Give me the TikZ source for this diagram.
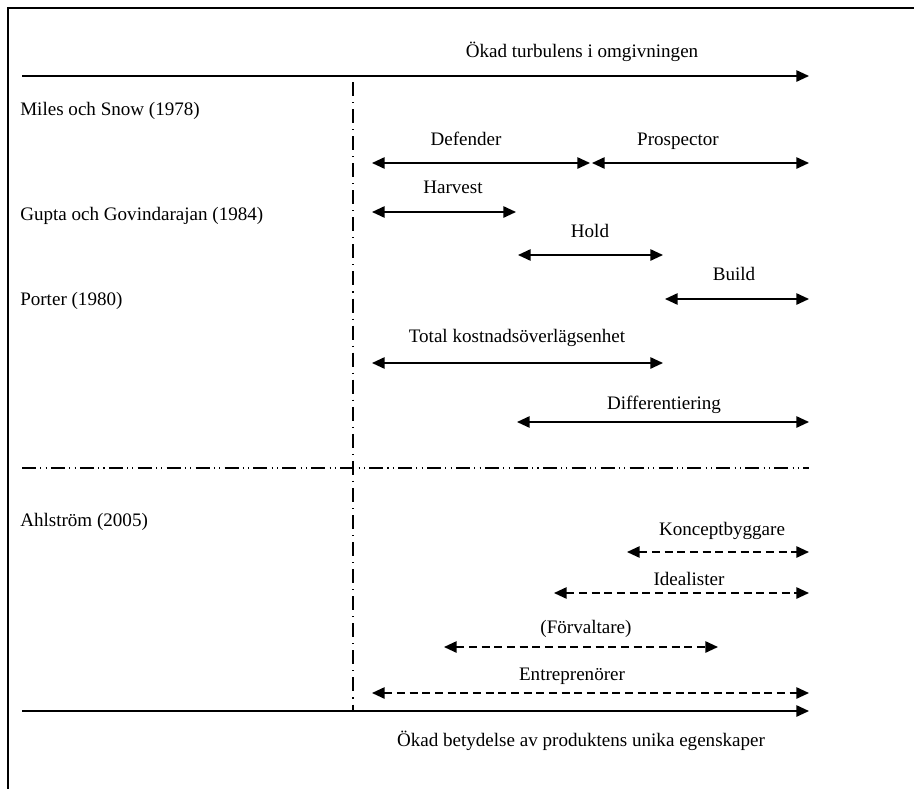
\documentclass[tikz,border=0pt]{standalone}
\usepackage{fontspec}
\setmainfont{Liberation Serif}
\usetikzlibrary{arrows.meta}
\begin{document}
\begin{tikzpicture}[x=0.75pt,y=-0.75pt,
  axis/.style={line width=1.3pt,-{Triangle[length=9.5pt,width=8.5pt]}},
  span/.style={line width=1.3pt,{Triangle[length=9.5pt,width=8.5pt]}-{Triangle[length=9.5pt,width=8.5pt]}},
  dspan/.style={span,dash pattern=on 6pt off 3.5pt},
  lbl/.style={font=\fontsize{14.3}{16}\selectfont,inner sep=0pt,anchor=base},
  src/.style={lbl,anchor=base west},
  vsep/.style={line width=1pt,dash pattern=on 10.5pt off 4.5pt on 0.8pt off 4.5pt},
  hsep/.style={line width=1pt,dash pattern=on 10.5pt off 3.2pt on 0.8pt off 3.2pt on 0.8pt off 3.2pt}]
\clip (0,0) rectangle (914,789);
% outer frame (runs past the page edge on the right and bottom)
\draw[line width=1.4pt] (8,800) -- (8,8) -- (930,8);

% axes
\coordinate (tA) at (22,76);  \coordinate (tB) at (809,76);
\coordinate (bA) at (22,711); \coordinate (bB) at (809,711);
\draw[axis] (tA) -- (tB);
\draw[axis] (bA) -- (bB);
\node[lbl] (ttl) at (582,57) {Ökad turbulens i omgivningen};
\node[lbl] (btl) at (581,746) {Ökad betydelse av produktens unika egenskaper};

% separators
\coordinate (vA) at (353,82);  \coordinate (vB) at (353,712);
\coordinate (hA) at (22,468);  \coordinate (hB) at (809,468);
\draw[vsep] (vA) -- (vB);
\draw[hsep] (hA) -- (hB);

% source labels
\node[src] (ms) at (20,115) {Miles och Snow (1978)};
\node[src] (gg) at (20,220) {Gupta och Govindarajan (1984)};
\node[src] (po) at (20,305) {Porter (1980)};
\node[src] (ah) at (20,526) {Ahlström (2005)};

% Miles och Snow
\coordinate (d1) at (372,163); \coordinate (d2) at (590,163);
\coordinate (p1) at (592,163); \coordinate (p2) at (809,163);
\draw[span] (d1) -- (d2);
\draw[span] (p1) -- (p2);
\node[lbl] (def) at (466,145) {Defender};
\node[lbl] (pro) at (678,145) {Prospector};

% Gupta och Govindarajan
\coordinate (h1) at (372,212); \coordinate (h2) at (516,212);
\coordinate (o1) at (518,255); \coordinate (o2) at (663,255);
\coordinate (u1) at (665,299); \coordinate (u2) at (809,299);
\draw[span] (h1) -- (h2);
\draw[span] (o1) -- (o2);
\draw[span] (u1) -- (u2);
\node[lbl] (har) at (453,193) {Harvest};
\node[lbl] (hol) at (590,237) {Hold};
\node[lbl] (bui) at (734,280) {Build};

% Porter
\coordinate (k1) at (372,363); \coordinate (k2) at (663,363);
\coordinate (f1) at (517,422); \coordinate (f2) at (809,422);
\draw[span] (k1) -- (k2);
\draw[span] (f1) -- (f2);
\node[lbl] (tot) at (517,342) {Total kostnadsöverlägsenhet};
\node[lbl] (dif) at (664,409) {Differentiering};

% Ahlström
\coordinate (c1) at (627,552); \coordinate (c2) at (809,552);
\coordinate (i1) at (554,593); \coordinate (i2) at (809,593);
\coordinate (v1) at (444,647); \coordinate (v2) at (718,647);
\coordinate (e1) at (372,693); \coordinate (e2) at (809,693);
\draw[dspan] (c1) -- (c2);
\draw[dspan] (i1) -- (i2);
\draw[dspan] (v1) -- (v2);
\draw[dspan] (e1) -- (e2);
\node[lbl] (kon) at (722,535) {Konceptbyggare};
\node[lbl] (ide) at (689,585) {Idealister};
\node[lbl] (for) at (586,633) {(Förvaltare)};
\node[lbl] (ent) at (572,680) {Entreprenörer};
\end{tikzpicture}
\end{document}
